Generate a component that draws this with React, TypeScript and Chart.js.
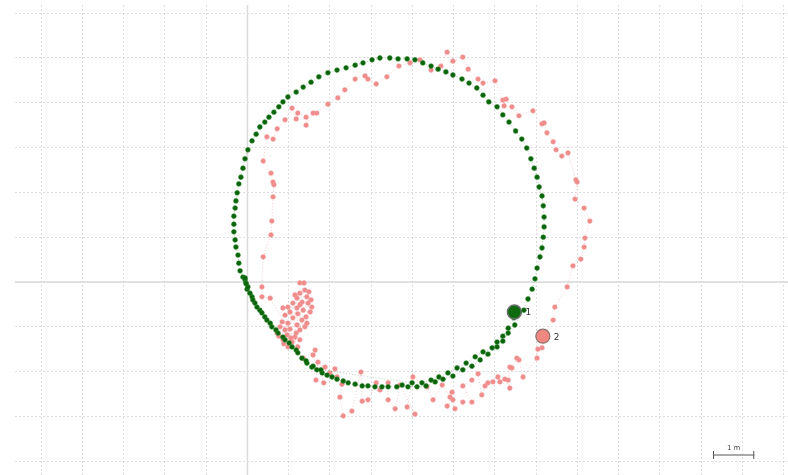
import React, { useEffect, useRef } from "react";
import { Chart, registerables } from "chart.js";

Chart.register(...registerables);

// Axis window in metres
const X_MIN = -5.636;
const X_MAX = 13.103;
const Y_MIN = -4.308;
const Y_MAX = 6.183;

// Reference track (green), in metres
const greenStart: [number, number][] = [
  [-0.11, 0.11], [-0.06, 0.05], [-0.04, -0.02], [-0.01, -0.16], [0.11, -0.33], [0.18, -0.47],
  [0.30, -0.63], [0.42, -0.78], [0.55, -0.92], [0.69, -1.07], [0.86, -1.23], [1.01, -1.36],
];
const greenBottom: [number, number][] = [
  [1.18, -1.52], [1.32, -1.70], [1.44, -1.81], [1.56, -1.90], [1.68, -1.96], [1.81, -2.03],
  [1.93, -2.08], [2.05, -2.12], [2.17, -2.17], [2.32, -2.21], [2.44, -2.25], [2.61, -2.28],
  [2.78, -2.32], [2.92, -2.32], [3.09, -2.34], [3.26, -2.34], [3.41, -2.34], [3.62, -2.34],
  [3.75, -2.30],
];
const greenOuterRight: [number, number][] = [
  [3.89, -2.34], [4.11, -2.34], [4.33, -2.32], [4.55, -2.23], [4.74, -2.17], [4.98, -2.10],
  [5.22, -1.96], [5.44, -1.88], [5.64, -1.74], [5.83, -1.61], [6.05, -1.45], [6.19, -1.32],
  [6.32, -1.14], [6.48, -0.96], [6.70, -0.63],
];
const greenLoop: [number, number][] = [
  [6.80, -0.38], [6.90, -0.16], [6.97, 0.07], [7.02, 0.31], [7.09, 0.56], [7.14, 0.76],
  [7.17, 1.00], [7.19, 1.23], [7.19, 1.45], [7.17, 1.70], [7.14, 1.92], [7.07, 2.12],
  [7.02, 2.34], [6.95, 2.54], [6.87, 2.75], [6.77, 2.99], [6.65, 3.19], [6.50, 3.37],
  [6.34, 3.57], [6.19, 3.73], [6.05, 3.91], [5.85, 4.02], [5.71, 4.17], [5.56, 4.33],
  [5.37, 4.44], [5.20, 4.53], [4.98, 4.62], [4.81, 4.69], [4.62, 4.75], [4.45, 4.82],
  [4.25, 4.89], [4.06, 4.96], [3.87, 4.98], [3.65, 4.98], [3.45, 5.00], [3.21, 5.00],
  [3.02, 4.96], [2.80, 4.89], [2.61, 4.84], [2.39, 4.78], [2.17, 4.73], [1.95, 4.67],
  [1.73, 4.58], [1.54, 4.46], [1.35, 4.35], [1.18, 4.24], [0.98, 4.13], [0.86, 4.02],
  [0.76, 3.91], [0.64, 3.79], [0.52, 3.68], [0.42, 3.57], [0.30, 3.46], [0.21, 3.30],
  [0.11, 3.15], [0.01, 2.95], [-0.06, 2.75], [-0.11, 2.54], [-0.16, 2.34], [-0.21, 2.19],
  [-0.25, 1.99], [-0.28, 1.81], [-0.30, 1.65], [-0.33, 1.47], [-0.33, 1.29], [-0.33, 1.12],
  [-0.30, 0.94], [-0.28, 0.78], [-0.23, 0.60], [-0.21, 0.42], [-0.18, 0.25],
];
const greenSecondPass: [number, number][] = [
  [-0.06, 0.09], [-0.03, -0.04], [0.01, -0.11], [0.06, -0.25], [0.13, -0.40], [0.23, -0.56],
  [0.35, -0.69], [0.47, -0.85], [0.59, -1.00], [0.74, -1.14], [0.91, -1.29], [1.08, -1.45],
  [1.22, -1.58], [1.42, -1.76], [1.59, -1.88], [1.78, -1.96],
  [3.99, -2.25], [4.23, -2.25], [4.45, -2.19], [4.64, -2.12], [4.86, -2.03], [5.08, -1.92],
  [5.30, -1.81], [5.52, -1.67], [5.71, -1.56], [5.93, -1.47], [6.05, -1.34], [6.19, -1.21],
  [6.32, -1.03], [6.46, -0.80], [6.47, -0.67],
];

// Measured track (pink), in metres
const pinkCluster: [number, number][] = [
  [1.27, -0.02], [1.37, -0.02], [1.39, -0.18], [1.49, -0.22], [1.27, -0.25], [1.15, -0.29],
  [1.44, -0.33], [1.20, -0.36], [1.54, -0.40], [1.32, -0.45], [1.10, -0.47], [1.47, -0.47],
  [1.27, -0.51], [1.56, -0.56], [0.98, -0.56], [0.86, -0.58], [1.20, -0.58], [1.35, -0.63],
  [1.52, -0.67], [1.03, -0.67], [0.91, -0.74], [1.22, -0.71], [1.42, -0.78], [1.10, -0.80],
  [1.32, -0.85], [0.84, -0.89], [0.98, -0.92], [1.44, -0.92], [1.20, -0.96], [1.39, -1.00],
  [0.79, -1.00], [1.03, -1.05], [1.27, -1.07], [0.91, -1.07], [0.72, -1.14], [1.18, -1.14],
  [0.96, -1.18], [0.76, -1.21], [1.15, -1.23], [1.05, -1.25], [0.86, -1.29], [1.27, -1.29],
  [1.08, -1.34], [0.88, -1.38], [0.98, -1.45], [1.22, -1.45],
];
const pinkTrack: [number, number][] = [
  [0.55, -0.36], [0.35, -0.33], [0.35, -0.11], [0.38, 0.56], [0.57, 1.05], [0.59, 1.36],
  [0.62, 1.90], [0.64, 2.17], [0.62, 2.23], [0.57, 2.43], [0.38, 2.70], [0.47, 3.24],
  [0.62, 3.19], [0.72, 3.42], [0.91, 3.62], [1.08, 3.88], [1.18, 3.64], [1.22, 3.77],
  [1.42, 3.68], [1.42, 3.50], [1.59, 3.77], [1.68, 3.77], [1.95, 3.97], [2.19, 4.11],
  [2.36, 4.29], [2.61, 4.53], [2.85, 4.60], [2.92, 4.53], [3.12, 4.42], [3.38, 4.58],
  [3.67, 4.82], [3.94, 4.89], [4.18, 4.96], [4.45, 4.73], [4.69, 4.82], [4.84, 5.13],
  [4.98, 4.93], [5.22, 5.02], [5.35, 4.75], [5.59, 4.53], [5.71, 4.44], [6.00, 4.49],
  [6.19, 4.06], [6.27, 4.08], [6.22, 3.93], [6.41, 3.91], [6.58, 3.71], [6.92, 3.82],
  [7.14, 3.53], [7.19, 3.55], [7.26, 3.33], [7.41, 3.13], [7.48, 2.95], [7.62, 2.81],
  [7.77, 2.88], [7.96, 2.28], [7.99, 2.23], [7.94, 1.85], [8.16, 1.65], [8.30, 1.36],
  [8.18, 0.98], [8.16, 0.78], [8.08, 0.51], [7.89, 0.36], [7.75, -0.11], [7.45, -0.56],
  [7.41, -0.85], [7.17, -1.21], [7.14, -1.47], [7.04, -1.50], [7.02, -1.70], [6.68, -2.12],
  [6.58, -1.74], [6.53, -1.70], [6.41, -1.92], [6.36, -1.90], [6.32, -2.19], [6.36, -2.37],
  [6.24, -2.17], [6.12, -2.23], [6.07, -2.12], [5.95, -2.23], [5.83, -2.25], [5.76, -2.32],
  [5.68, -2.52], [5.59, -2.05], [5.44, -2.19], [5.22, -2.32], [5.44, -2.68], [5.22, -2.68],
  [5.03, -2.83], [4.98, -2.63], [4.84, -2.77], [4.96, -2.46], [4.91, -2.57], [4.72, -2.30],
  [4.50, -2.63], [4.35, -2.34], [4.01, -2.12], [3.87, -2.79], [4.06, -2.95], [3.70, -2.30],
  [3.58, -2.83], [3.41, -2.63], [3.41, -2.25], [3.21, -2.41], [3.12, -2.25], [2.92, -2.63],
  [2.78, -2.66], [2.75, -2.01], [2.53, -2.88], [2.32, -2.99], [2.24, -2.57], [2.29, -2.28],
  [2.17, -2.12], [2.12, -1.94], [2.00, -2.03], [1.88, -1.90], [1.71, -1.79], [1.66, -2.19],
  [1.85, -2.25], [1.59, -1.63], [1.64, -1.52], [1.35, -1.70],
];

// Current positions
const marker1: [number, number] = [6.47, -0.67];
const marker2: [number, number] = [7.16, -1.21];
const markerLabels = ["1", "2"];
const scaleBarLabel = "1 m";
const scaleBarLength = 1;

const toPts = (a: [number, number][]) => a.map(([x, y]) => ({ x, y }));

export default function App() {
  const ref = useRef<HTMLCanvasElement>(null);

  useEffect(() => {
    document.body.style.margin = "0";
    if (!ref.current) return;

    const axisLines = {
      id: "axisLines",
      beforeDatasetsDraw(chart: any) {
        const { ctx, chartArea: a, scales } = chart;
        const px = scales.x.getPixelForValue(0);
        const py = scales.y.getPixelForValue(0);
        ctx.save();
        ctx.strokeStyle = "#dadada";
        ctx.lineWidth = 1.5;
        ctx.beginPath();
        ctx.moveTo(px, a.top);
        ctx.lineTo(px, a.bottom);
        ctx.moveTo(a.left, py);
        ctx.lineTo(a.right, py);
        ctx.stroke();
        ctx.restore();
      },
    };

    const labelPlugin = {
      id: "markerLabels",
      afterDatasetsDraw(chart: any) {
        const { ctx } = chart;
        ctx.save();
        ctx.fillStyle = "#333";
        ctx.font = "9px 'DejaVu Sans', sans-serif";
        ctx.textBaseline = "middle";
        [2, 3].forEach((di, i) => {
          const el = chart.getDatasetMeta(di).data[0];
          if (el) ctx.fillText(markerLabels[i], el.x + 11, el.y + 1);
        });
        ctx.restore();
      },
    };

    const scaleBar = {
      id: "scaleBar",
      afterDraw(chart: any) {
        const { ctx, chartArea: a, scales } = chart;
        const len = scales.x.getPixelForValue(scaleBarLength) - scales.x.getPixelForValue(0);
        const x0 = a.right - 75;
        const x1 = x0 + len;
        const y = a.bottom - 20;
        ctx.save();
        ctx.strokeStyle = "#555";
        ctx.lineWidth = 1;
        ctx.beginPath();
        ctx.moveTo(x0, y);
        ctx.lineTo(x1, y);
        ctx.moveTo(x0 + 0.5, y - 4);
        ctx.lineTo(x0 + 0.5, y + 4);
        ctx.moveTo(x1 - 0.5, y - 4);
        ctx.lineTo(x1 - 0.5, y + 4);
        ctx.stroke();
        ctx.fillStyle = "#444";
        ctx.font = "7px 'DejaVu Sans', sans-serif";
        ctx.textAlign = "center";
        ctx.textBaseline = "bottom";
        ctx.fillText(scaleBarLabel, (x0 + x1) / 2, y - 3);
        ctx.restore();
      },
    };

    const grid = {
      display: true,
      color: "rgba(0,0,0,0.13)",
      lineWidth: 1,
      drawTicks: false,
    };

    const chart = new Chart(ref.current, {
      type: "scatter",
      data: {
        datasets: [
          {
            label: "reference",
            data: toPts([...greenStart, ...greenBottom, ...greenOuterRight, ...greenLoop, ...greenSecondPass]),
            showLine: true,
            borderColor: "rgba(0,110,0,0.3)",
            borderWidth: 1,
            borderDash: [1, 2],
            pointRadius: 2.4,
            pointBackgroundColor: "#0a620a",
            pointBorderColor: "#2a862a",
            pointBorderWidth: 0.6,
            order: 2,
          },
          {
            label: "measured",
            data: toPts([...pinkCluster, ...pinkTrack]),
            showLine: true,
            borderColor: "rgba(240,128,128,0.4)",
            borderWidth: 1,
            borderDash: [1, 2],
            pointRadius: 2.4,
            pointBackgroundColor: "#ef8c8c",
            pointBorderColor: "#f29d9d",
            pointBorderWidth: 0.5,
            order: 3,
          },
          {
            label: "1",
            data: toPts([marker1]),
            pointRadius: 7,
            pointBackgroundColor: "#0e6a0e",
            pointBorderColor: "#6f6f6f",
            pointBorderWidth: 1.5,
            order: 0,
          },
          {
            label: "2",
            data: toPts([marker2]),
            pointRadius: 7,
            pointBackgroundColor: "#f08880",
            pointBorderColor: "#8a7070",
            pointBorderWidth: 1.2,
            order: 1,
          },
        ],
      },
      options: {
        animation: false,
        responsive: false,
        events: [],
        layout: { padding: { left: 15, top: 5, right: 0, bottom: 0 }, autoPadding: false },
        plugins: { legend: { display: false }, tooltip: { enabled: false } },
        scales: {
          x: {
            type: "linear",
            min: X_MIN,
            max: X_MAX,
            ticks: { display: false, stepSize: 1, includeBounds: false },
            grid,
            border: { display: false, dash: [2, 2] },
          },
          y: {
            type: "linear",
            min: Y_MIN,
            max: Y_MAX,
            ticks: { display: false, stepSize: 1, includeBounds: false },
            grid,
            border: { display: false, dash: [2, 2] },
          },
        },
      },
      plugins: [axisLines, labelPlugin, scaleBar],
    });

    return () => chart.destroy();
  }, []);

  return (
    <div style={{ width: 788, height: 475 }}>
      <canvas ref={ref} width={788} height={475} style={{ display: "block" }} />
    </div>
  );
}
